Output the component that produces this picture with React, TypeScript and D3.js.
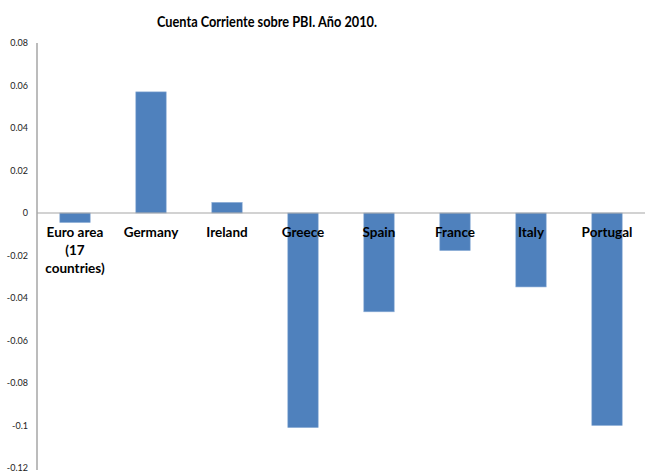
import React from "react";
import * as d3 from "d3";

const categories = ["Euro area (17 countries)", "Germany", "Ireland", "Greece", "Spain", "France", "Italy", "Portugal"];
const categoryLines = [["Euro area", "(17", "countries)"], ["Germany"], ["Ireland"], ["Greece"], ["Spain"], ["France"], ["Italy"], ["Portugal"]];
const values = [-0.0045, 0.057, 0.005, -0.101, -0.0465, -0.0177, -0.0348, -0.1];
const yTicks = [0.08, 0.06, 0.04, 0.02, 0, -0.02, -0.04, -0.06, -0.08, -0.1, -0.12];
const title = "Cuenta Corriente sobre PBI. Año 2010.";

const W = 646, H = 473;
const left = 37, right = 645, top = 43, bottom = 468;

export default function App() {
  const x = d3.scaleBand<string>().domain(categories).range([left, right]).paddingInner(0.6).paddingOuter(0.3);
  const y = d3.scaleLinear().domain([-0.12, 0.08]).range([bottom, top]);
  const font = "Lato, 'Open Sans', sans-serif";
  return (
    <svg width={W} height={H} style={{ position: "absolute", left: 0, top: 0, background: "#fff" }}>
      <text x={267} y={27} textAnchor="middle" fontFamily={font} fontWeight="bold" fontSize={15} fill="#000" textLength={220} lengthAdjust="spacingAndGlyphs">{title}</text>
      {yTicks.map((t) => (
        <text key={t} x={28} y={y(t) + 3} textAnchor="end" fontFamily={font} fontSize={9} fill="#222">{String(t)}</text>
      ))}
      <line x1={left} x2={left} y1={top} y2={bottom + 2} stroke="#a6a6a6" strokeWidth={1.5} />
      {values.map((v, i) => {
        const c = categories[i];
        const y0 = y(0), yv = y(v);
        return (
          <rect key={c} x={x(c)!} width={x.bandwidth()} y={Math.min(y0, yv)} height={Math.abs(yv - y0)} fill="#4f81bd" stroke="#8fb0d8" strokeWidth={0.6} />
        );
      })}
      <line x1={left} x2={right} y1={y(0)} y2={y(0)} stroke="#a6a6a6" strokeWidth={1.2} />
      {categoryLines.map((lines, i) => {
        const cx = x(categories[i])! + x.bandwidth() / 2;
        return (
          <text key={i} textAnchor="middle" fontFamily={font} fontWeight="bold" fontSize={13.5} fill="#000">
            {lines.map((l, j) => (
              <tspan key={j} x={cx} y={237 + j * 18}>{l}</tspan>
            ))}
          </text>
        );
      })}
    </svg>
  );
}
